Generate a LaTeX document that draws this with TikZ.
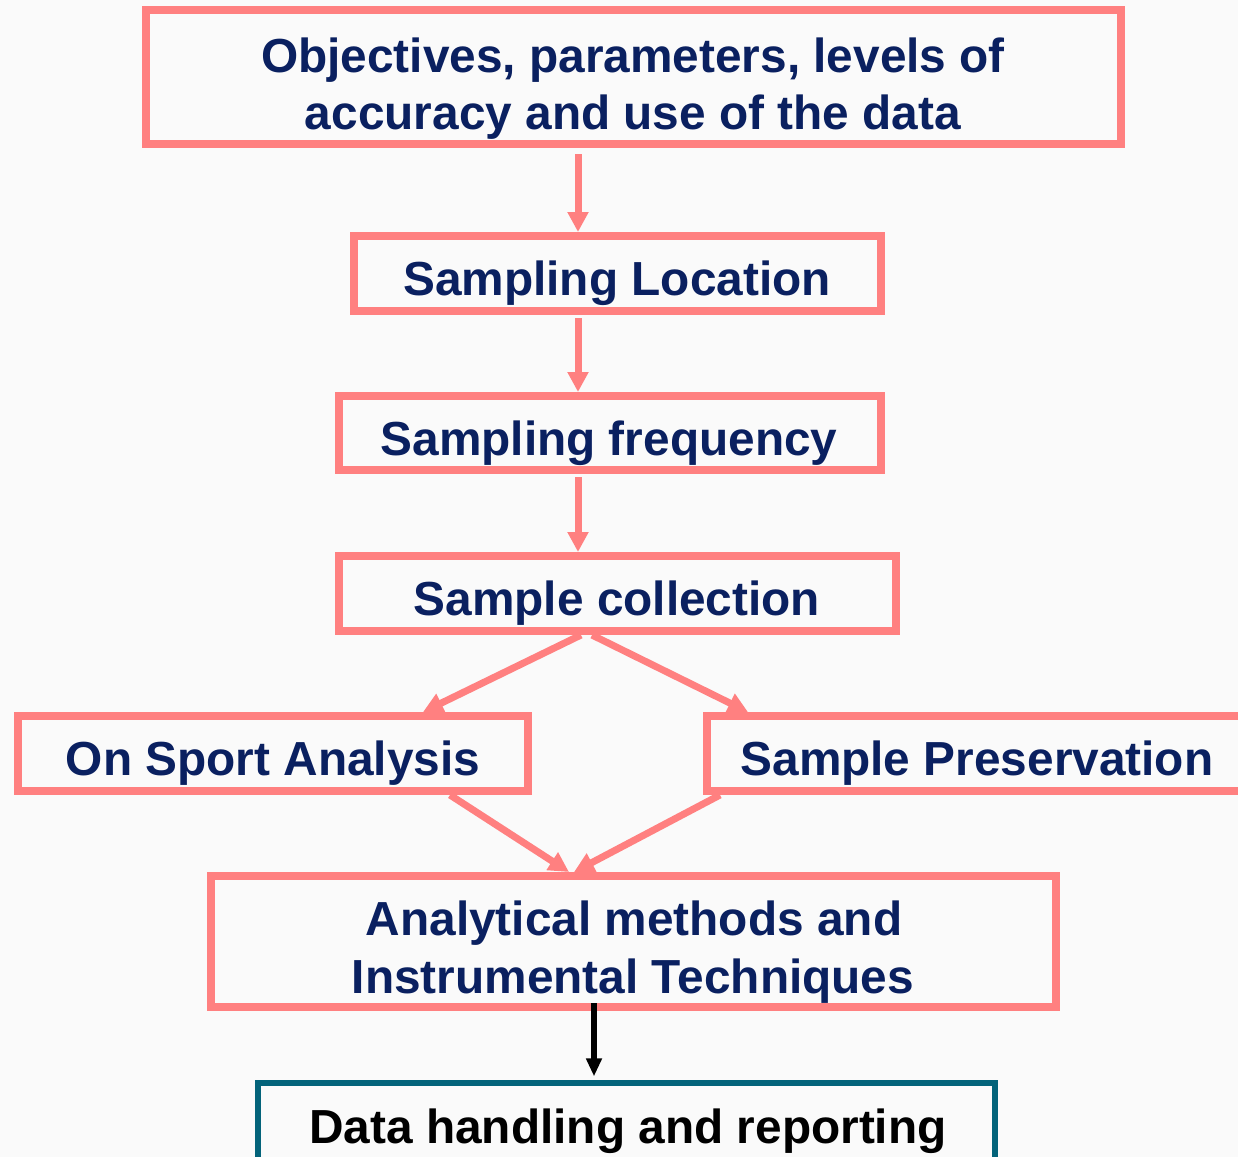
\documentclass[tikz,border=0pt]{standalone}
\usepackage{fontspec}
\setmainfont{Liberation Sans}
\usetikzlibrary{arrows.meta}
\definecolor{salmon}{RGB}{255,128,128}
\definecolor{navy}{RGB}{10,32,96}
\definecolor{teal}{RGB}{3,99,122}
\definecolor{paper}{RGB}{250,250,250}
\tikzset{
  stepbox/.style={draw=salmon, line width=4pt, inner sep=0pt, rectangle},
  endbox/.style={draw=teal, line width=2.6pt, inner sep=0pt, rectangle},
  label/.style={anchor=base, inner sep=0pt, text=navy,
    font=\fontsize{23.9pt}{28.5pt}\selectfont\bfseries},
  flow/.style={draw=salmon, line width=3.5pt,
    -{Triangle[width=10pt,length=10pt]}},
  final/.style={draw=black, line width=2.6pt,
    -{Triangle[width=7.5pt,length=9pt]}},
}
\begin{document}
\begin{tikzpicture}[x=0.5pt,y=-0.5pt]
  \fill[paper] (0,0) rectangle (1238,1157);
  \clip (0,0) rectangle (1238,1157);
  \useasboundingbox (0,0) rectangle (1238,1157);

  % boxes
  \node[stepbox, minimum width=487.5pt, minimum height=67pt]   (obj)  at (633.5,77)    {};
  \node[stepbox, minimum width=263.5pt, minimum height=37.5pt] (loc)  at (617.5,273.5) {};
  \node[stepbox, minimum width=271pt,   minimum height=37pt]   (freq) at (610,433)     {};
  \node[stepbox, minimum width=278.5pt, minimum height=37.5pt] (coll) at (617.5,593.5) {};
  \node[stepbox, minimum width=255pt,   minimum height=37.5pt] (site) at (273,753.5)   {};
  \node[stepbox, minimum width=276.5pt, minimum height=37.5pt] (pres) at (983.5,753.5) {};
  \node[stepbox, minimum width=422.5pt, minimum height=65.5pt] (anal) at (633.5,941.5) {};
  \node[endbox,  minimum width=368.5pt, minimum height=48.5pt] (data) at (626.5,1131.5) {};

  % texts
  \node[label] (objA) at (633,72)  {Objectives, parameters, levels of};
  \node[label] (objB) at (633,129) {accuracy and use of the data};
  \node[label] (locT) at (617,295) {Sampling Location};
  \node[label] (frqT) at (609,455) {Sampling frequency};
  \node[label] (colT) at (617,615) {Sample collection};
  \node[label] (sitT) at (273,775) {On Sport Analysis};
  \node[label] (preT) at (977,775) {Sample Preservation};
  \node[label] (anaA) at (634,935) {Analytical methods and};
  \node[label] (anaB) at (633,993) {Instrumental Techniques};
  \node[label, text=black] (datT) at (628,1143) {Data handling and reporting};

  % connectors
  \draw[flow, shorten <=3pt] (obj.south -| 578,0) -- (loc.north -| 578,0);
  \draw[flow, shorten <=1.5pt] (loc.south -| 578,0) -- (freq.north -| 578,0);
  \draw[flow, shorten <=1.5pt] (freq.south -| 578,0) -- (coll.north -| 578,0);
  \draw[flow] (coll.south -| 581,0) -- (site.north -| 423,0);
  \draw[flow] (coll.south -| 592,0) -- (pres.north -| 748,0);
  \draw[flow] (site.south -| 450,0) -- (anal.north -| 569,0);
  \draw[flow] (pres.south -| 720,0) -- (anal.north -| 574,0);
  \draw[final, shorten <=-4pt, shorten >=2pt] (anal.south -| 594,0) -- (data.north -| 594,0);
\end{tikzpicture}
\end{document}
